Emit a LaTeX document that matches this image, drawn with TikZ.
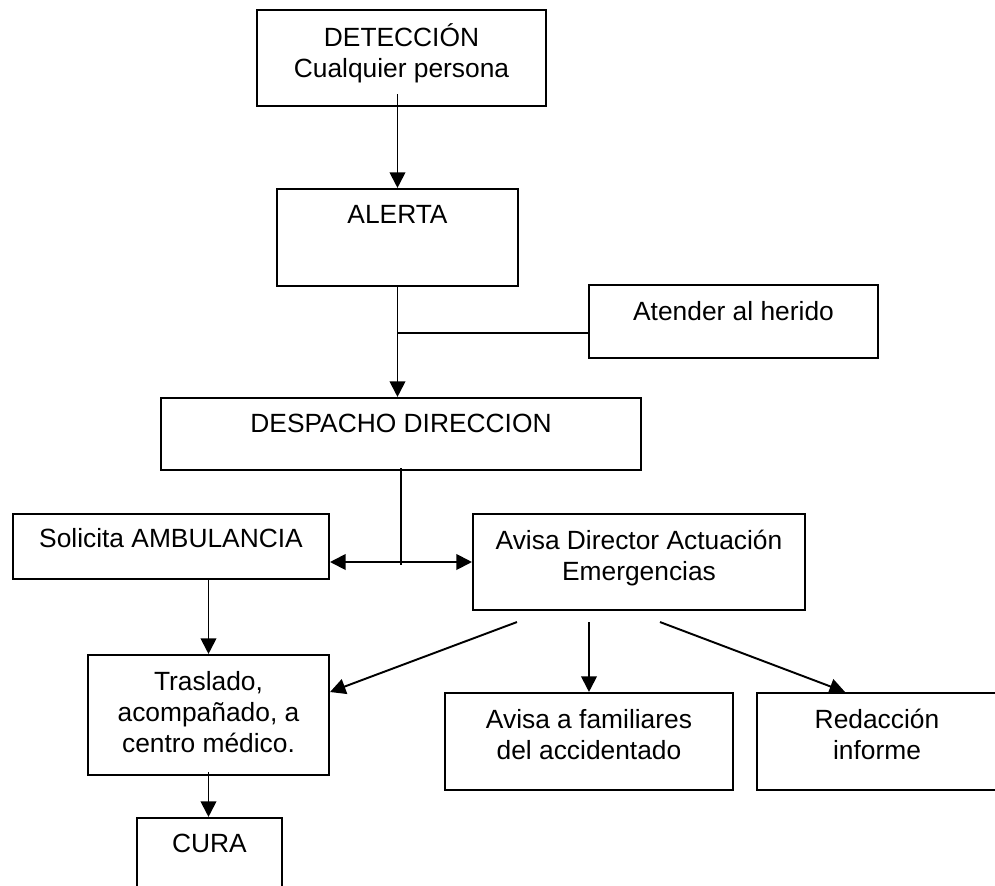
\documentclass[tikz,border=0pt]{standalone}
\usepackage{fontspec}
\setmainfont{Liberation Sans}
\usetikzlibrary{arrows.meta}
\tikzset{%
    >={Triangle[width=3.1mm,length=3.1mm]},
    % Specifications for style of nodes:
    box/.style = {
        rectangle, draw=black, line width=1.2pt,
        inner sep=0pt, fill=white
    },
    box-text/.style = {
        anchor=north, yshift=-3.4mm, inner sep=0pt,
        align=center, font=\fontsize{15pt}{17.6pt}\selectfont
    },
    link/.style = {line width=1.1pt}
}
\begin{document}
\begin{tikzpicture}[x=0.02cm, y=-0.02cm]
    \path[use as bounding box, clip] (0,0) rectangle (995,886);
    \node[box, minimum width=5.78cm, minimum height=1.92cm, label={[box-text, name=det-t, yshift=0.6mm]north:{DETECCIÓN\\Cualquier persona}}] (det) at (401.5,58) {};
    \node[box, minimum width=4.82cm, minimum height=1.94cm, label={[box-text, name=alerta-t]north:{ALERTA}}] (alerta) at (397.5,237.5) {};
    \node[box, minimum width=5.78cm, minimum height=1.46cm, label={[box-text, name=atender-t]north:{Atender al herido}}] (atender) at (733.5,321.5) {};
    \node[box, minimum width=9.6cm, minimum height=1.44cm, label={[box-text, name=despacho-t]north:{DESPACHO DIRECCION}}] (despacho) at (401,434) {};
    \node[box, minimum width=6.32cm, minimum height=1.3cm, label={[box-text, name=solicita-t, yshift=0.3mm]north:{Solicita AMBULANCIA}}] (solicita) at (171,546.5) {};
    \node[box, minimum width=6.64cm, minimum height=1.92cm, label={[box-text, name=avisadir-t]north:{Avisa Director Actuación\\Emergencias}}] (avisadir) at (639,562) {};
    \node[box, minimum width=4.82cm, minimum height=2.4cm, label={[box-text, name=traslado-t]north:{Traslado,\\acompañado, a\\centro médico.}}] (traslado) at (208.5,715) {};
    \node[box, minimum width=5.76cm, minimum height=1.94cm, label={[box-text, name=familiares-t]north:{Avisa a familiares\\del accidentado}}] (familiares) at (589,741.5) {};
    \node[box, minimum width=4.9cm, minimum height=1.94cm, label={[box-text, name=redaccion-t, xshift=-0.05cm]north:{Redacción\\informe}}] (redaccion) at (879.5,741.5) {};
    \node[box, minimum width=2.9cm, minimum height=1.92cm, label={[box-text, name=cura-t]north:{CURA}}] (cura) at (209.5,866) {};
    \coordinate (split) at (401,565);

    % connectors
    \draw[link, ->] ([yshift=0.26cm]det.south -| alerta.north) -- (alerta.north);
    \draw[link, ->] (alerta.south) -- (despacho.north -| alerta.south);
    \draw[link] ([yshift=-0.23cm]atender.west) -- ([yshift=-0.23cm]atender.west -| alerta.south);
    \draw[link] ([yshift=0.06cm]despacho.south) -- (split);
    \draw[link, <->] (solicita.east |- avisadir.west) -- (avisadir.west);
    \draw[link, ->] (solicita.south -| traslado.north) -- (traslado.north);
    \draw[link, ->] ([xshift=0.9cm,yshift=-0.22cm]avisadir.south west) -- ([yshift=0.46cm]traslado.east);
    \draw[link, ->] ([yshift=-0.22cm]avisadir.south -| familiares.north) -- (familiares.north);
    \draw[link, ->] ([xshift=0.42cm,yshift=-0.22cm]avisadir.south) -- ([xshift=-0.69cm]redaccion.north);
    \draw[link, ->] ([yshift=0.08cm]traslado.south) -- (traslado.south |- cura.north);
\end{tikzpicture}
\end{document}
